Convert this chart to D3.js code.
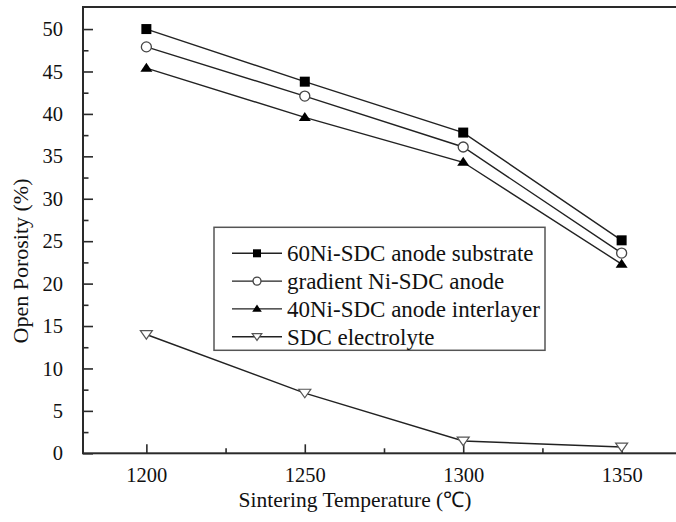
<!DOCTYPE html>
<html><head><meta charset="utf-8">
<script src="https://cdn.jsdelivr.net/npm/d3@7"></script>
<style>
body{margin:0;background:#fff;}
svg text{font-family:"Liberation Serif",serif !important;fill:#111;}
</style></head>
<body><svg id="c" width="676" height="522" font-family="Liberation Serif"></svg>
<script>
const temps = [1200, 1250, 1300, 1350];
const ni60 = [50.0, 43.8, 37.8, 25.1];
const gradient = [47.9, 42.1, 36.1, 23.6];
const ni40 = [45.4, 39.6, 34.3, 22.3];
const sdc = [14.0, 7.1, 1.45, 0.75];
const seriesNames = ["60Ni-SDC anode substrate", "gradient Ni-SDC anode", "40Ni-SDC anode interlayer", "SDC electrolyte"];
const xTicks = [1200, 1250, 1300, 1350];
const yTicks = [0, 5, 10, 15, 20, 25, 30, 35, 40, 45, 50];

const FONT = "'Liberation Serif', serif";
const svg = d3.select("#c");
const L = 83, R = 685, T = 7, B = 453.3;
const x = d3.scaleLinear().domain([1180, 1370]).range([L, R]);
const y = d3.scaleLinear().domain([0, 52.6]).range([B, T]);
const stroke = "#222";

const g = svg.append("g");
g.append("rect").attr("x", L).attr("y", T).attr("width", R - L).attr("height", B - T)
  .attr("fill", "none").attr("stroke", "#2a2a2a").attr("stroke-width", 2);

const yAxis = d3.axisLeft(y).tickValues(yTicks).tickSize(-10).tickPadding(20).tickFormat(d3.format("d"));
const ya = g.append("g").attr("transform", `translate(${L},0)`).call(yAxis);
const xAxis = d3.axisBottom(x).tickValues(xTicks).tickSize(-9).tickPadding(14).tickFormat(d3.format("d"));
const xa = g.append("g").attr("transform", `translate(0,${B})`).call(xAxis);
[ya, xa].forEach(a => {
  a.attr("font-family", FONT).attr("font-size", 20.5);
  a.select(".domain").remove();
  a.selectAll(".tick line").attr("stroke", "#2a2a2a").attr("stroke-width", 1.6);
  a.selectAll(".tick text").attr("font-size", 20.5).attr("fill", "#111").style("font-family", FONT);
});
const yMinor = d3.axisLeft(y).tickValues(d3.range(2.5, 52, 5)).tickSize(-5.5).tickFormat("");
const ym = g.append("g").attr("transform", `translate(${L},0)`).call(yMinor);
const xMinor = d3.axisBottom(x).tickValues([1225, 1275, 1325]).tickSize(-5).tickFormat("");
const xm = g.append("g").attr("transform", `translate(0,${B})`).call(xMinor);
[ym, xm].forEach(a => {
  a.select(".domain").remove();
  a.selectAll(".tick line").attr("stroke", "#2a2a2a").attr("stroke-width", 1.6);
});

svg.append("text").attr("x", 355).attr("y", 507).attr("text-anchor", "middle")
  .attr("font-size", 21.5).style("font-family", FONT).text("Sintering Temperature (℃)");
svg.append("text").attr("transform", "translate(28,261) rotate(-90)").attr("text-anchor", "middle")
  .attr("font-size", 22).style("font-family", FONT).text("Open Porosity (%)");

const data = [ni60, gradient, ni40, sdc];
const shapes = ["square", "circle", "triangle", "dtriangle"];
function marker(sel, shape, s) {
  if (shape === "square") {
    sel.append("rect").attr("x", -s / 2).attr("y", -s / 2).attr("width", s).attr("height", s).attr("fill", "#000");
  } else if (shape === "circle") {
    sel.append("circle").attr("r", s / 2).attr("fill", "#fff").attr("stroke", "#444").attr("stroke-width", 1.3);
  } else if (shape === "triangle") {
    const h = s * 0.9;
    sel.append("path").attr("d", `M0,${-h * 0.6}L${s * 0.6},${h * 0.4}L${-s * 0.6},${h * 0.4}Z`).attr("fill", "#000");
  } else {
    const h = s * 0.85;
    sel.append("path").attr("d", `M${-s * 0.6},${-h * 0.45}L${s * 0.6},${-h * 0.45}L0,${h * 0.55}Z`)
      .attr("fill", "#fff").attr("stroke", "#555").attr("stroke-width", 1.2);
  }
}
const line = d3.line().x((d, i) => x(temps[i])).y(d => y(d));
data.forEach(vals => {
  svg.append("path").datum(vals).attr("d", line).attr("fill", "none")
    .attr("stroke", stroke).attr("stroke-width", 1.4);
});
data.forEach((vals, k) => {
  vals.forEach((v, i) => {
    const m = svg.append("g").attr("transform", `translate(${x(temps[i])},${y(v)})`);
    marker(m, shapes[k], 10);
  });
});

const lg = svg.append("g");
lg.append("rect").attr("x", 214).attr("y", 227.3).attr("width", 331).attr("height", 123)
  .attr("fill", "#fff").attr("stroke", "#555").attr("stroke-width", 1.5);
seriesNames.forEach((name, k) => {
  const cy = 253.3 + k * 27.8;
  lg.append("line").attr("x1", 232).attr("x2", 282).attr("y1", cy).attr("y2", cy)
    .attr("stroke", stroke).attr("stroke-width", 1.4);
  const m = lg.append("g").attr("transform", `translate(257,${cy})`);
  marker(m, shapes[k], 8);
  lg.append("text").attr("x", 287).attr("y", cy).attr("dy", "0.35em")
    .attr("font-size", 23).style("font-family", FONT).text(name);
});
</script></body></html>
